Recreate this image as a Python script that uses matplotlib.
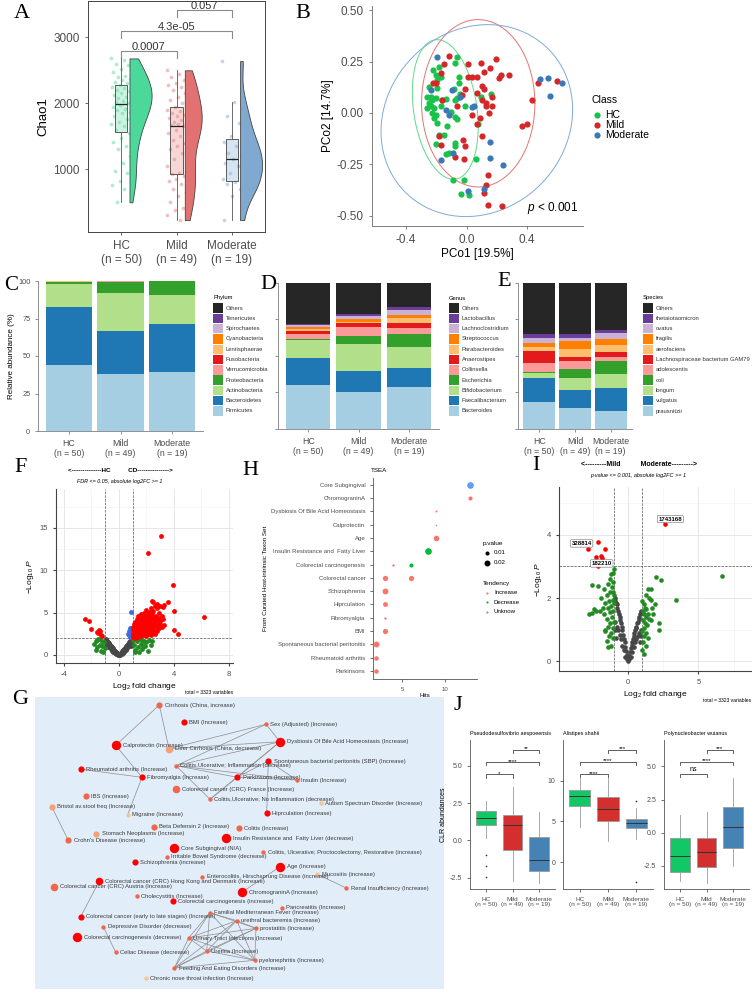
import numpy as np
import matplotlib
matplotlib.use("Agg")
import matplotlib.pyplot as plt
from matplotlib.patches import Rectangle
from matplotlib.colors import to_rgba

plt.rcParams['font.family'] = ['Liberation Sans', 'DejaVu Sans']
plt.rcParams['mathtext.fontset'] = 'custom'
plt.rcParams['mathtext.rm'] = 'Liberation Sans'
plt.rcParams['mathtext.it'] = 'Liberation Sans:italic'
plt.rcParams['axes.unicode_minus'] = False

# ---------------- DATA ----------------
groups = ["HC", "Mild", "Moderate"]
group_n = [50, 49, 19]
group_labels = [f"{g}\n(n = {n})" for g, n in zip(groups, group_n)]

# A: Chao1
chao_hc = [2680, 2650, 2600, 2580, 2520, 2480, 2420, 2400, 2370, 2350, 2320, 2300, 2280, 2250, 2230,
           2200, 2180, 2150, 2130, 2100, 2080, 2050, 2040, 2020, 2000, 1980, 1950, 1920, 1900, 1870,
           1850, 1800, 1760, 1720, 1690, 1650, 1600, 1550, 1480, 1420, 1360, 1300, 1200, 1100, 980,
           950, 820, 760, 700, 500]
chao_mild = [2500, 2450, 2400, 2350, 2300, 2280, 2250, 2200, 2150, 2100, 2050, 2000, 1950, 1900, 1880,
             1850, 1820, 1800, 1780, 1750, 1720, 1700, 1680, 1670, 1650, 1600, 1550, 1500, 1450, 1400,
             1350, 1300, 1250, 1150, 1050, 950, 930, 900, 850, 820, 780, 700, 650, 600, 500, 420, 380,
             300, 230]
chao_mod = [2640, 2020, 1800, 1700, 1500, 1420, 1350, 1250, 1200, 1150, 1100, 1050, 950, 850, 800,
            780, 700, 600, 230]
chao_tests = [(1, 2, 2790, "0.0007"), (1, 3, 3090, "4.3e-05"), (2, 3, 3410, "0.057")]

# B: PCoA
pc_hc = [(-0.062, 0.270), (-0.077, 0.241), (-0.183, 0.225), (-0.223, 0.209), (-0.205, 0.184),
         (-0.194, 0.160), (-0.172, 0.173), (-0.051, 0.173), (-0.051, 0.144), (-0.084, 0.115),
         (-0.194, 0.120), (-0.260, 0.076), (-0.238, 0.076), (-0.227, 0.063), (-0.205, 0.071),
         (-0.249, 0.047), (-0.260, 0.023), (-0.216, 0.023), (-0.161, 0.063), (-0.139, 0.066),
         (-0.073, 0.063), (-0.227, -0.002), (-0.205, -0.010), (-0.216, -0.026), (-0.194, -0.050),
         (-0.128, -0.063), (-0.073, -0.018), (-0.062, -0.031), (-0.011, 0.034), (0.077, -0.055),
         (-0.183, -0.107), (-0.150, -0.107), (-0.205, -0.150), (-0.073, -0.147), (-0.077, -0.163),
         (-0.139, -0.199), (-0.117, -0.196), (0.064, -0.225), (-0.091, -0.325), (-0.018, -0.325),
         (-0.035, -0.393), (0.015, -0.398), (0.159, 0.091), (0.093, 0.079), (-0.106, 0.006),
         (-0.040, 0.092), (-0.232, 0.034), (-0.172, 0.034), (-0.249, 0.128), (-0.066, 0.071)]
pc_mild = [(-0.113, 0.277), (-0.150, 0.238), (-0.166, 0.196), (-0.223, 0.147), (0.007, 0.236),
           (0.093, 0.241), (0.192, 0.261), (0.155, 0.217), (0.113, 0.197), (0.071, 0.176),
           (0.011, 0.173), (0.038, 0.173), (0.225, 0.184), (0.214, 0.168), (0.280, 0.184),
           (0.104, 0.131), (0.115, 0.115), (0.071, 0.099), (-0.011, 0.115), (-0.029, 0.087),
           (-0.064, 0.034), (0.126, 0.047), (0.126, 0.034), (0.166, 0.034), (0.148, 0.002),
           (0.088, -0.023), (0.071, -0.055), (0.104, -0.112), (-0.007, -0.159), (-0.077, -0.212),
           (-0.018, -0.222), (-0.166, -0.155), (-0.183, -0.112), (0.435, 0.063), (0.369, -0.063),
           (0.402, -0.053), (0.472, 0.144), (0.600, 0.157), (0.139, -0.301), (0.132, -0.350),
           (0.115, -0.390), (0.143, -0.448), (0.236, -0.451), (-0.161, 0.063), (-0.205, 0.144),
           (0.170, 0.079), (-0.024, -0.131), (0.099, 0.063), (0.038, -0.010)]
pc_mod = [(-0.192, 0.270), (-0.238, 0.112), (-0.095, 0.112), (-0.139, 0.015), (-0.117, -0.010),
          (0.049, 0.034), (0.038, 0.028), (0.483, 0.167), (0.536, 0.168), (0.634, 0.144),
          (0.550, 0.083), (0.157, -0.142), (0.152, -0.220), (0.241, -0.254), (-0.170, -0.231),
          (-0.091, -0.196), (0.011, -0.379), (0.115, -0.369), (-0.040, 0.079)]
f_quantile_95 = [3.187, 3.191, 3.555]   # qf(0.95, 2, n-1)

# C, D, E: composition (bottom -> top)
phylum_names = ["Firmicutes", "Bacteroidetes", "Actinobacteria", "Proteobacteria", "Verrucomicrobia",
                "Fusobacteria", "Lentisphaerae", "Cyanobacteria", "Spirochaetes", "Tenericutes", "Others"]
phylum_hc = [44.0, 38.5, 15.2, 1.8, 0.1, 0.05, 0.05, 0.2, 0.0, 0.0, 0.1]
phylum_mild = [38.2, 28.7, 24.9, 7.8, 0.3, 0.0, 0.0, 0.0, 0.0, 0.0, 0.1]
phylum_mod = [39.3, 32.0, 19.2, 9.3, 0.05, 0.0, 0.0, 0.05, 0.0, 0.0, 0.1]

genus_names = ["Bacteroides", "Faecalibacterium", "Bifidobacterium", "Escherichia", "Collinsella",
               "Anaerostipes", "Parabacteroides", "Streptococcus", "Lachnoclostridium", "Lactobacillus", "Others"]
genus_hc = [30.0, 18.8, 12.2, 0.8, 3.0, 2.1, 1.8, 1.3, 1.2, 0.8, 28.0]
genus_mild = [25.3, 14.4, 18.3, 5.9, 6.1, 2.4, 1.1, 1.6, 2.3, 1.4, 21.2]
genus_mod = [29.0, 13.0, 14.4, 8.4, 4.1, 3.9, 3.0, 2.3, 3.4, 1.9, 16.6]

species_names = ["prausnitzii", "vulgatus", "longum", "coli", "adolescentis",
                 "Lachnospiraceae bacterium GAM79", "aerofaciens", "fragilis", "ovatus",
                 "thetaiotaomicron", "Others"]
species_hc = [18.3, 16.9, 2.9, 0.9, 6.0, 8.4, 3.0, 2.7, 3.4, 2.5, 35.0]
species_mild = [14.2, 12.5, 8.5, 6.1, 5.3, 2.9, 5.3, 5.5, 1.8, 2.9, 35.0]
species_mod = [12.6, 15.7, 9.6, 8.7, 2.9, 3.2, 4.6, 4.3, 3.9, 2.3, 32.2]

# F: volcano HC vs CD
f_sig = [(1.0, 2.1), (1.0, 2.5), (1.0, 2.9), (1.0, 3.3), (1.1, 2.2), (1.1, 2.7), (1.1, 3.1), (1.1, 3.6),
         (1.2, 2.0), (1.2, 2.4), (1.2, 3.0), (1.2, 3.4), (1.2, 3.9), (1.3, 2.3), (1.3, 2.8), (1.3, 3.2),
         (1.3, 3.7), (1.3, 4.3), (1.4, 2.1), (1.4, 2.6), (1.4, 3.0), (1.4, 3.5), (1.4, 4.0), (1.4, 4.6),
         (1.5, 2.4), (1.5, 2.9), (1.5, 3.3), (1.5, 3.8), (1.5, 4.4), (1.6, 2.2), (1.6, 2.7), (1.6, 3.1),
         (1.6, 3.6), (1.6, 4.1), (1.6, 4.8), (1.7, 2.5), (1.7, 3.0), (1.7, 3.4), (1.7, 3.9), (1.7, 4.5),
         (1.8, 2.3), (1.8, 2.8), (1.8, 3.2), (1.8, 3.7), (1.8, 4.2), (1.8, 5.0), (1.9, 2.6), (1.9, 3.1),
         (1.9, 3.5), (1.9, 4.0), (1.9, 4.6), (2.0, 2.2), (2.0, 2.9), (2.0, 3.3), (2.0, 3.8), (2.0, 4.4),
         (2.0, 5.3), (2.1, 2.5), (2.1, 3.0), (2.1, 3.6), (2.1, 4.1), (2.1, 4.8), (2.2, 2.8), (2.2, 3.4),
         (2.2, 3.9), (2.2, 4.5), (2.2, 5.1), (2.3, 2.3), (2.3, 3.1), (2.3, 3.7), (2.3, 4.3), (2.3, 5.5),
         (2.4, 2.7), (2.4, 3.5), (2.4, 4.0), (2.4, 4.8), (2.4, 6.4), (2.5, 2.9), (2.5, 3.3), (2.5, 3.9),
         (2.5, 4.5), (2.5, 5.2), (2.5, 6.3), (2.6, 2.5), (2.6, 3.6), (2.6, 4.2), (2.6, 5.8), (2.7, 3.0),
         (2.7, 3.8), (2.7, 4.6), (2.8, 2.8), (2.8, 3.4), (2.8, 4.1), (2.8, 5.5), (2.8, 6.0), (2.9, 3.2),
         (2.9, 4.4), (2.9, 5.0), (3.0, 3.6), (3.0, 4.0), (3.0, 5.8), (3.1, 3.3), (3.1, 4.6), (3.2, 4.2),
         (3.2, 5.7), (3.3, 3.5), (3.3, 5.9), (3.05, 14.1), (2.13, 12.1), (3.93, 8.3), (3.6, 6.3),
         (4.0, 5.2), (6.2, 4.5), (4.0, 2.9), (4.3, 2.5),
         (-2.5, 4.3), (-2.2, 4.0), (-2.0, 3.1), (-1.6, 2.7), (-1.45, 2.9), (-1.3, 2.4), (-1.55, 2.6),
         (-1.2, 2.2), (-1.35, 2.8)]
f_fc = [(-1.8, 1.3), (-1.7, 1.6), (-1.6, 0.9), (-1.5, 1.9), (-1.4, 1.2), (-1.3, 0.5), (-1.25, 1.7),
        (-1.2, 1.0), (-1.15, 0.3), (-1.1, 1.5), (-1.05, 0.8), (-1.6, 1.8), (-1.35, 1.9), (-1.7, 0.6),
        (1.05, 1.8), (1.1, 1.2), (1.2, 0.6), (1.3, 1.6), (1.4, 0.9), (1.5, 1.9), (1.6, 1.3), (1.7, 0.7),
        (1.8, 1.7), (1.9, 1.1), (2.0, 1.5), (2.1, 0.5), (2.2, 1.8), (2.3, 1.2), (1.15, 0.3), (1.35, 1.9),
        (1.65, 1.8), (1.45, 0.4), (2.4, 1.6), (1.75, 1.0)]
f_p = [(0.9, 5.1), (0.8, 3.2), (0.75, 2.8), (0.85, 2.6), (0.7, 2.3), (0.8, 2.1), (0.9, 3.0), (0.65, 2.5),
       (0.95, 2.4)]
f_ns = [(0.0, 0.02), (0.05, 0.08), (-0.05, 0.06), (0.1, 0.15), (-0.1, 0.12), (0.15, 0.25), (-0.15, 0.2),
        (0.2, 0.35), (-0.2, 0.3), (0.25, 0.45), (-0.25, 0.4), (0.3, 0.55), (-0.3, 0.5), (0.35, 0.65),
        (-0.35, 0.6), (0.4, 0.75), (-0.4, 0.7), (0.45, 0.85), (-0.45, 0.8), (0.5, 0.95), (-0.5, 0.9),
        (0.55, 1.05), (-0.55, 1.0), (0.6, 1.15), (-0.6, 1.1), (0.65, 1.3), (-0.65, 1.2), (0.7, 1.4),
        (-0.7, 1.3), (0.75, 1.55), (-0.75, 1.4), (0.8, 1.7), (-0.8, 1.5), (0.85, 1.85), (-0.85, 1.6),
        (0.9, 1.95), (-0.9, 1.7), (-0.95, 1.85), (0.2, 0.1), (-0.2, 0.08), (0.3, 0.25), (-0.3, 0.2),
        (0.4, 0.4), (-0.4, 0.35), (0.5, 0.6), (-0.5, 0.5), (0.6, 0.8), (-0.6, 0.7), (0.7, 1.0),
        (-0.7, 0.9), (0.8, 1.2), (-0.8, 1.1), (0.9, 1.45), (-0.9, 1.3), (0.95, 1.6), (-0.95, 1.5),
        (0.1, 0.03), (-0.1, 0.03), (0.95, 1.2), (-0.95, 1.1), (0.85, 1.0), (-0.85, 0.95)]

# H: TSEA
tsea_terms = ["Core Subgingival", "ChromograninA", "Dysbiosis Of Bile Acid Homeostasis", "Calprotectin",
              "Age", "Insulin Resistance and  Fatty Liver", "Colorectal carcinogenesis",
              "Colorectal cancer", "Schizophrenia", "Hiprculation", "Fibromyalgia", "BMI",
              "Spontaneous bacterial peritonitis", "Rheumatoid arthritis", "Parkinsons"]
tsea_hits = [("Core Subgingival", 13, 0.025, "Unknow"), ("ChromograninA", 13, 0.010, "Increase"),
             ("Dysbiosis Of Bile Acid Homeostasis", 9, 0.003, "Increase"),
             ("Calprotectin", 9, 0.002, "Increase"), ("Age", 9, 0.018, "Increase"),
             ("Insulin Resistance and  Fatty Liver", 8, 0.025, "Decrease"),
             ("Colorectal carcinogenesis", 4, 0.004, "Increase"),
             ("Colorectal carcinogenesis", 6, 0.010, "Decrease"),
             ("Colorectal cancer", 3, 0.016, "Increase"), ("Colorectal cancer", 6, 0.016, "Increase"),
             ("Schizophrenia", 3, 0.020, "Increase"), ("Hiprculation", 3, 0.014, "Increase"),
             ("Fibromyalgia", 3, 0.004, "Increase"), ("BMI", 3, 0.016, "Increase"),
             ("Spontaneous bacterial peritonitis", 2, 0.020, "Increase"),
             ("Rheumatoid arthritis", 2, 0.012, "Increase"), ("Parkinsons", 2, 0.012, "Increase")]
tendency_colors = {"Increase": "#F8766D", "Decrease": "#00BA38", "Unknow": "#619CFF"}

# I: volcano Mild vs Moderate
i_sig = [(2.65, 4.34), (-2.1, 3.78), (-2.84, 3.55), (-1.61, 3.53), (-2.27, 3.28), (-1.9, 3.34),
         (-1.82, 3.26), (-2.1, 3.0)]
i_labels = [("1743168", 3.0, 4.49), ("328814", -3.3, 3.72), ("182210", -1.87, 3.09)]
i_fc = [(-1.0, 2.9), (-1.1, 2.8), (-1.2, 2.75), (-1.3, 2.6), (-1.05, 2.5), (-1.4, 2.45), (-1.15, 2.35),
        (-1.25, 2.2), (-1.5, 2.1), (-1.0, 2.1), (-1.1, 1.95), (-1.35, 1.9), (-1.6, 1.85), (-1.2, 1.75),
        (-1.45, 1.7), (-1.05, 1.6), (-1.3, 1.55), (-1.7, 1.5), (-1.15, 1.4), (-1.5, 1.35), (-1.0, 1.25),
        (-1.25, 1.2), (-1.4, 1.1), (-1.1, 1.05), (-1.6, 1.0), (-1.2, 0.9), (-1.35, 0.8), (-1.05, 0.75),
        (-1.5, 0.65), (-1.2, 0.5), (-1.4, 0.45), (-1.8, 1.7), (-2.0, 1.6), (-2.25, 1.6), (-2.58, 1.53),
        (-2.58, 2.42), (-2.16, 2.37), (-1.9, 2.0), (-1.7, 2.3), (-2.4, 1.65), (-2.75, 1.5), (-1.6, 0.95),
        (-1.0, 1.85), (-1.1, 2.2),
        (1.0, 1.9), (1.1, 1.8), (1.2, 1.7), (1.05, 1.6), (1.3, 1.65), (1.15, 1.5), (1.4, 1.5),
        (1.25, 1.4), (1.05, 1.3), (1.5, 1.35), (1.2, 1.2), (1.35, 1.15), (1.1, 1.05), (1.6, 1.3),
        (1.0, 0.95), (1.3, 0.9), (1.15, 0.8), (1.45, 0.75), (1.05, 0.6), (1.25, 0.5), (1.0, 0.35),
        (1.15, 0.25), (1.7, 1.7), (1.5, 2.0), (1.3, 2.1), (2.0, 2.66), (2.37, 2.56), (3.44, 1.94),
        (6.64, 2.68), (1.9, 1.8), (2.2, 1.0), (2.2, 1.2), (1.6, 2.3), (1.8, 1.5), (1.4, 2.3), (1.65, 1.95)]
i_ns = [(0.0, 0.02), (0.05, 0.08), (-0.05, 0.07), (0.1, 0.18), (-0.1, 0.2), (0.15, 0.3), (-0.15, 0.32),
        (0.2, 0.42), (-0.2, 0.45), (0.25, 0.52), (-0.25, 0.6), (0.3, 0.62), (-0.3, 0.72), (0.35, 0.72),
        (-0.35, 0.85), (0.4, 0.8), (-0.4, 0.98), (0.45, 0.9), (-0.45, 1.1), (0.5, 1.0), (-0.5, 1.2),
        (0.55, 1.05), (-0.55, 1.3), (0.6, 1.1), (-0.6, 1.4), (0.65, 1.2), (-0.65, 1.5), (0.7, 1.25),
        (-0.7, 1.6), (0.75, 1.35), (-0.75, 1.7), (0.8, 1.4), (-0.8, 1.8), (0.85, 1.5), (-0.85, 1.85),
        (0.9, 1.55), (-0.9, 1.9), (0.95, 1.6), (-0.95, 2.0), (0.2, 0.15), (-0.2, 0.15), (0.3, 0.3),
        (-0.3, 0.35), (0.4, 0.45), (-0.4, 0.5), (0.5, 0.6), (-0.5, 0.7), (0.6, 0.7), (-0.6, 0.85),
        (0.7, 0.8), (-0.7, 1.0), (0.8, 0.9), (-0.8, 1.1), (0.9, 1.0), (-0.9, 1.25), (0.95, 0.8),
        (-0.95, 1.0), (0.85, 0.6), (-0.85, 0.75)]

# G: network (label, layout x, layout y, size class, colour level)
net_nodes = [
    ("Cirrhosis (China, increase)", 159.3, 705.0, "M", 1),
    ("BMI (Increase)", 184.0, 722.3, "M", 0),
    ("Calprotectin (Increase)", 115.7, 745.3, "L", 0),
    ("Liver Cirrhosis (China, decrease)", 169.0, 748.7, "ML", 2),
    ("Sex (Adjusted) (Increase)", 266.0, 724.3, "S", 1),
    ("Dysbiosis Of Bile Acid Homeostasis (Increase)", 280.0, 741.7, "L", 0),
    ("Colitis,Ulcerative; Inflammation (decrease)", 176.0, 765.7, "S", 1),
    ("Spontaneous bacterial peritonitis (SBP) (Increase)", 268.3, 761.0, "M", 0),
    ("Rheumatoid arthritis (Increase)", 81.0, 769.3, "M", 0),
    ("Fibromyalgia (Increase)", 142.0, 777.3, "M", 0),
    ("Parkinsons (Increase)", 237.3, 777.3, "M", 0),
    ("Insulin (Increase)", 296.7, 780.0, "S", 1),
    ("Colorectal cancer (CRC) France (Increase)", 176.0, 789.3, "ML", 1),
    ("Colitis,Ulcerative; No Inflammation (decrease)", 210.0, 799.3, "S", 1),
    ("Autism Spectrum Disorder (Increase)", 320.7, 803.3, "S", 3),
    ("IBS (Increase)", 85.7, 796.3, "M", 1),
    ("Bristol av.stool freq (Increase)", 51.7, 806.7, "M", 2),
    ("Hiprculation (Increase)", 266.7, 813.3, "M", 0),
    ("Migraine (Increase)", 127.7, 814.7, "S", 3),
    ("Beta Defensin 2 (Increase)", 154.0, 826.7, "M", 1),
    ("Colitis (Increase)", 239.0, 828.3, "M", 1),
    ("Stomach Neoplasms (Increase)", 96.3, 833.7, "M", 2),
    ("Crohn's Disease (increase)", 68.3, 840.3, "M", 1),
    ("Insulin Resistance and  Fatty Liver (decrease)", 225.7, 838.0, "L", 0),
    ("Core Subgingival (N/A)", 173.7, 848.0, "L", 0),
    ("Colitis, Ulcerative; Proctocolectomy, Restorative (increase)", 263.3, 852.3, "S", 1),
    ("Irritable Bowel Syndrome (decrease)", 166.7, 856.7, "S", 1),
    ("Schizophrenia (increase)", 134.7, 862.3, "M", 0),
    ("Age (Increase)", 280.0, 866.7, "L", 0),
    ("Enterocolitis, Hirschsprung Disease (increase)", 202.3, 876.7, "S", 1),
    ("Mucositis (increase)", 317.3, 874.3, "S", 3),
    ("Renal Insufficiency (Increase)", 346.3, 888.0, "S", 1),
    ("Colorectal cancer (CRC) Hong Kong and Denmark (Increase)", 99.3, 881.0, "ML", 0),
    ("Colorectal cancer (CRC) Austria (Increase)", 54.0, 886.7, "ML", 1),
    ("ChromograninA (Increase)", 242.3, 892.0, "L", 0),
    ("Cholecystitis (Increase)", 136.7, 896.0, "S", 1),
    ("Colorectal carcinogenesis (increase)", 173.0, 901.0, "M", 0),
    ("Pancreatitis (Increase)", 282.0, 907.7, "S", 1),
    ("Familial Mediterranean Fever (Increase)", 209.7, 912.7, "S", 1),
    ("Colorectal cancer (early to late stages) (Increase)", 80.7, 916.7, "M", 0),
    ("urethral bacteremia (Increase)", 236.7, 920.7, "S", 1),
    ("prostatitis (Increase)", 256.0, 928.3, "S", 1),
    ("Depressive Disorder (decrease)", 103.3, 926.7, "S", 1),
    ("Colorectal carcinogenesis (decrease)", 77.3, 937.3, "L", 0),
    ("Urinary Tract Infections (Increase)", 188.7, 938.0, "S", 1),
    ("Uremia (Increase)", 206.7, 951.0, "S", 1),
    ("Celiac Disease (decrease)", 115.7, 952.3, "S", 1),
    ("pyelonephritis (Increase)", 254.7, 960.3, "S", 1),
    ("Feeding And Eating Disorders (Increase)", 174.3, 968.0, "S", 1),
    ("Chronic nose throat infection (Increase)", 145.7, 978.3, "S", 3),
]
net_edges = [(0, 2), (0, 3), (2, 9), (8, 9), (9, 18), (16, 22), (32, 39), (42, 46), (28, 34), (30, 31),
             (4, 5), (4, 3), (4, 6), (5, 3), (5, 6), (5, 10), (5, 13), (6, 10), (6, 11), (10, 11),
             (10, 13), (6, 13), (7, 17), (7, 10), (7, 11)]
net_clique = [38, 40, 41, 44, 45, 47, 48]

# J: CLR boxplots (whislo, q1, med, q3, whishi, fliers)
clr_titles = ["Pseudodesulfovibrio aespoeensis", "Alistipes shahii", "Polynucleobacter wuianus"]
clr_stats = [
    [(0.17, 1.0, 1.48, 2.0, 2.65, [-0.97, -1.7, -2.47]), (-2.7, -0.66, 1.06, 1.72, 3.57, []),
     (-2.85, -2.03, -1.3, 0.24, 1.9, [])],
    [(4.35, 6.85, 8.07, 8.9, 10.3, []), (2.6, 5.1, 6.55, 8.0, 10.3, []),
     (2.85, 4.2, 4.8, 5.3, 6.6, [7.5, -2.5])],
    [(-3.66, -2.98, -1.73, -0.42, 1.37, []), (-3.78, -2.61, -1.5, -0.42, 1.55, []),
     (-2.5, -1.19, 0.45, 1.92, 4.1, [])],
]
clr_tests = [
    [(1, 2, 4.43, "*"), (1, 3, 5.25, "****"), (2, 3, 6.07, "**")],
    [(1, 2, 10.8, "****"), (1, 3, 12.3, "****"), (2, 3, 13.8, "***")],
    [(1, 2, 4.43, "ns"), (1, 3, 5.35, "****"), (2, 3, 6.26, "***")],
]
clr_ticks = [[-2.5, 0.0, 2.5, 5.0], [0, 5, 10], [-2.5, 0.0, 2.5, 5.0]]

# ---------------- STYLE ----------------
W, H = 752, 992
fig = plt.figure(figsize=(W / 100, H / 100), dpi=100)
TICKC = '#4D4D4D'
SERIF = 'Liberation Serif'


def add_ax(x0, y0, x1, y1):
    return fig.add_axes([x0 / W, 1 - y1 / H, (x1 - x0) / W, (y1 - y0) / H])


def ftext(x, y, s, **kw):
    return fig.text(x / W, 1 - y / H, s, **kw)


def letter(x, y, s, fs=16):
    ftext(x, y, s, fontsize=fs, family=SERIF, ha='center', va='center')


def classic(ax, color='#555555', lw=0.7):
    for s in ['top', 'right']:
        ax.spines[s].set_visible(False)
    for s in ['left', 'bottom']:
        ax.spines[s].set_color(color)
        ax.spines[s].set_linewidth(lw)
    ax.tick_params(colors=color, width=lw, length=2.5)


def cov_trob(a, nu=5, iters=50):
    # multivariate-t robust location / scatter (as used by stat_ellipse type "t")
    n, p = a.shape
    loc = a.mean(0)
    cov = np.cov(a.T, bias=True)
    for _ in range(iters):
        d = a - loc
        q = np.einsum('ij,jk,ik->i', d, np.linalg.inv(cov), d)
        w = (nu + p) / (nu + q)
        loc = (w[:, None] * a).sum(0) / w.sum()
        d = a - loc
        cov = (w[:, None, None] * np.einsum('ij,ik->ijk', d, d)).sum(0) / n
    return loc, cov


# ---------------- A ----------------
axA = add_ax(88, 1, 265, 232)
vcol = ["#4CD89A", "#E27272", "#80A9D0"]
pcol = ["#6EDDA9", "#EA8A8A", "#8FB3D8"]
kde_list = []
for vals in [chao_hc, chao_mild, chao_mod]:
    v = np.asarray(vals, float)
    n = len(v)
    q75, q25 = np.percentile(v, [75, 25])
    bw = 0.9 * min(v.std(ddof=1), (q75 - q25) / 1.34) * n ** -0.2
    grid = np.linspace(v.min(), v.max(), 200)
    dens = np.exp(-0.5 * ((grid[:, None] - v[None, :]) / bw) ** 2).sum(1) / (n * bw * np.sqrt(2 * np.pi))
    kde_list.append((grid, dens))
scale = 0.40 / max(d.max() for _, d in kde_list)
for i, vals in enumerate([chao_hc, chao_mild, chao_mod]):
    pos = i + 1
    v = np.asarray(vals, float)
    k = np.arange(len(v))
    jit = ((k * 0.618034) % 1.0 - 0.5) * 0.36
    axA.scatter(pos + jit, v, s=7, color=pcol[i], alpha=0.55, lw=0, zorder=2)
    bp = axA.boxplot([v], positions=[pos], widths=0.22, patch_artist=True, showfliers=False,
                     showcaps=False, manage_ticks=False, zorder=3)
    for b in bp['boxes']:
        b.set_facecolor(to_rgba(pcol[i], 0.35))
        b.set_edgecolor('#444444')
        b.set_linewidth(0.6)
    for w in bp['whiskers']:
        w.set_color('#555555')
        w.set_linewidth(0.6)
    for m in bp['medians']:
        m.set_color('#222222')
        m.set_linewidth(0.9)
    grid, dens = kde_list[i]
    axA.fill_betweenx(grid, pos + 0.15, pos + 0.15 + dens * scale, facecolor=vcol[i],
                      edgecolor='#444444', lw=0.6, zorder=2)
for x1, x2, y, t in chao_tests:
    axA.plot([x1, x1, x2, x2], [y - 100, y, y, y - 100], color='#8A8A8A', lw=0.8)
    axA.text((x1 + x2) / 2, y + 25, t, ha='center', va='baseline', fontsize=8, color='#333333')
axA.set_xlim(0.4, 3.6)
axA.set_ylim(50, 3550)
axA.set_yticks([1000, 2000, 3000])
axA.set_xticks([1, 2, 3])
axA.set_xticklabels(group_labels)
axA.tick_params(labelsize=8.5, colors=TICKC, width=0.6, length=2.5)
for s in axA.spines.values():
    s.set_color('#444444')
    s.set_linewidth(0.7)
axA.set_ylabel("Chao1", fontsize=9.5, labelpad=3)
letter(22, 13, "A")

# ---------------- B ----------------
axB = add_ax(372, 6, 583, 226)
classic(axB, '#7F7F7F')
bcol = ["#19C24A", "#D62728", "#3A78BA"]
ecol = ["#5FD98A", "#E57373", "#7FAAD6"]
for pts, c, ec, fq in zip([pc_hc, pc_mild, pc_mod], bcol, ecol, f_quantile_95):
    a = np.asarray(pts)
    axB.scatter(a[:, 0], a[:, 1], s=20, color=c, lw=0, zorder=3)
    cen, cv = cov_trob(a)
    L = np.linalg.cholesky(cv)
    th = np.linspace(0, 2 * np.pi, 200)
    circ = np.column_stack([np.cos(th), np.sin(th)])
    e = cen + np.sqrt(2 * fq) * circ @ L.T
    axB.plot(e[:, 0], e[:, 1], color=ec, lw=0.7, zorder=2)
axB.set_xlim(-0.625, 0.77)
axB.set_ylim(-0.55, 0.52)
axB.set_xticks([-0.4, 0.0, 0.4])
axB.set_yticks([-0.5, -0.25, 0.0, 0.25, 0.5])
axB.set_yticklabels(["-0.50", "-0.25", "0.00", "0.25", "0.50"])
axB.tick_params(labelsize=8.5, labelcolor=TICKC)
axB.set_xlabel("PCo1 [19.5%]", fontsize=8.5, labelpad=1)
axB.set_ylabel("PCo2 [14.7%]", fontsize=8.5, labelpad=2)
axB.text(0.74, -0.5, r"$p$ < 0.001", fontsize=8.5, ha='right', va='bottom')
letter(303, 13, "B")

# ---------------- C, D, E ----------------
comp_cols = ["#A6CEE3", "#1F78B4", "#B2DF8A", "#33A02C", "#FB9A99", "#E31A1C", "#FDBF6F",
             "#FF7F00", "#CAB2D6", "#6A3D9A", "#262626"]


def stacked(ax, comps, width):
    bottoms = np.zeros(3)
    xs = np.arange(1, 4)
    comps = np.asarray(comps, float)
    for j, col in enumerate(comp_cols):
        ax.bar(xs, comps[:, j], width, bottom=bottoms, color=col, lw=0)
        bottoms += comps[:, j]
    ax.set_xlim(0.4, 3.6)
    ax.set_ylim(0, 100)
    ax.set_xticks([1, 2, 3])
    ax.set_xticklabels(group_labels)
    ax.set_yticks([0, 25, 50, 75, 100])
    classic(ax, '#7F7F7F', 0.6)
    ax.tick_params(labelsize=6.3, labelcolor=TICKC, length=2)


axC = add_ax(38, 281, 203, 431)
stacked(axC, [phylum_hc, phylum_mild, phylum_mod], 0.9)
axC.tick_params(axis='y', labelsize=5.3)
axC.set_ylabel("Relative abundance (%)", fontsize=5.8, labelpad=2)
axD = add_ax(278, 283, 439, 429)
stacked(axD, [genus_hc, genus_mild, genus_mod], 0.88)
axD.set_yticklabels([])
axE = add_ax(518, 283, 632, 429)
stacked(axE, [species_hc, species_mild, species_mod], 0.9)
axE.set_yticklabels([])
letter(11, 285, "C", 15)
letter(268, 284, "D")
letter(504, 282, "E")

# ---------------- F ----------------
axF = add_ax(56, 489, 233, 663)
classic(axF, '#444444', 0.8)
axF.set_axisbelow(True)
axF.set_xticks([-4, 0, 4, 8])
axF.set_xticks([-2, 2, 6], minor=True)
axF.set_yticks([0, 5, 10, 15])
axF.set_yticks([2.5, 7.5, 12.5, 17.5], minor=True)
axF.grid(True, which='major', color='#E3E3E3', lw=0.6)
axF.grid(True, which='minor', color='#EFEFEF', lw=0.4)
axF.tick_params(which='minor', length=0)
for pts, c in [(f_ns, '#474747'), (f_fc, '#228B22'), (f_p, '#4169E1'), (f_sig, '#FF0000')]:
    a = np.asarray(pts)
    axF.scatter(a[:, 0], a[:, 1], s=12, color=c, lw=0, zorder=3)
for xv in (-1, 1):
    axF.axvline(xv, ls='--', color='#555555', lw=0.5, zorder=2)
axF.axhline(1.95, ls='--', color='#555555', lw=0.5, zorder=2)
axF.set_xlim(-4.58, 8.3)
axF.set_ylim(-0.95, 19.6)
axF.tick_params(labelsize=5.5, labelcolor=TICKC)
axF.set_xlabel(r"Log$_2$ fold change", fontsize=6, labelpad=2)
axF.set_ylabel(r"$-$Log$_{10}$ $P$", fontsize=6, labelpad=2)
ftext(120, 470, "<--------------HC          CD--------------->", fontsize=4.6, fontweight='bold',
      ha='center', va='center')
ftext(120, 481, "FDR <= 0.05, absolute log2FC >= 1", fontsize=3.9, style='italic', ha='center',
      va='center')
ftext(233, 692, "total = 3323 variables", fontsize=3.6, ha='right', va='center')
letter(21, 467, "F")

# ---------------- H ----------------
axH = add_ax(373, 478, 477, 679)
classic(axH, '#555555', 0.6)
ypos = {t: len(tsea_terms) - 1 - k for k, t in enumerate(tsea_terms)}


def psize(p):
    return 2 + 955 * (p - 0.003)


for term, hits, p, tend in tsea_hits:
    axH.scatter(hits, ypos[term], s=psize(p), color=tendency_colors[tend], lw=0, zorder=3)
axH.set_yticks([ypos[t] for t in tsea_terms])
axH.set_yticklabels(tsea_terms)
axH.set_xticks([5, 10])
axH.set_xlim(1.6, 13.8)
axH.set_ylim(-0.6, 14.5)
axH.tick_params(labelsize=4.3, labelcolor=TICKC, length=2)
axH.set_xlabel("Hits", fontsize=4.5, labelpad=1)
axH.set_ylabel("From Curated Host-intrinsic Taxon Set", fontsize=4.5, labelpad=2)
ftext(371, 470, "TSEA", fontsize=4.5, ha='left', va='center')
letter(250, 470, "H")

# ---------------- I ----------------
axI = add_ax(559, 487, 752, 671)
classic(axI, '#444444', 0.8)
axI.set_axisbelow(True)
axI.set_xticks([0, 5])
axI.set_xticks([-2.5, 2.5, 7.5], minor=True)
axI.set_yticks([0, 2, 4])
axI.set_yticks([1, 3, 5], minor=True)
axI.grid(True, which='major', color='#E3E3E3', lw=0.6)
axI.grid(True, which='minor', color='#EFEFEF', lw=0.4)
axI.tick_params(which='minor', length=0)
for pts, c in [(i_ns, '#474747'), (i_fc, '#228B22'), (i_sig, '#FF0000')]:
    a = np.asarray(pts)
    axI.scatter(a[:, 0], a[:, 1], s=11, color=c, lw=0, zorder=3)
for lab, lx, ly in i_labels:
    axI.text(lx, ly, lab, fontsize=4.3, fontweight='bold', ha='center', va='center', zorder=5,
             bbox=dict(boxstyle='round,pad=0.2', fc='white', ec='#666666', lw=0.4))
for xv in (-0.97, 1.02):
    axI.axvline(xv, ls='--', color='#555555', lw=0.5, zorder=2)
axI.axhline(3.0, ls='--', color='#555555', lw=0.5, zorder=2)
axI.set_xlim(-4.9, 8.8)
axI.set_ylim(-0.3, 5.5)
axI.tick_params(labelsize=5.5, labelcolor=TICKC)
axI.set_xlabel(r"Log$_2$ fold change", fontsize=6, labelpad=2)
axI.set_ylabel(r"$-$Log$_{10}$ $P$", fontsize=6, labelpad=2)
ftext(639, 464, "<---------Mild          Moderate--------->", fontsize=5, fontweight='bold',
      ha='center', va='center')
ftext(638, 476, "p-value <= 0.001, absolute log2FC >= 1", fontsize=4, style='italic', ha='center',
      va='center')
ftext(751, 700, "total = 3323 variables", fontsize=3.6, ha='right', va='center')
letter(536, 466, "I")

# ---------------- G ----------------
axG = add_ax(35, 697, 444, 989)
axG.set_facecolor('#E2EDFA')
axG.set_xlim(35, 444)
axG.set_ylim(989, 697)
axG.set_xticks([])
axG.set_yticks([])
for s in axG.spines.values():
    s.set_visible(False)
node_sizes = {"L": 46, "ML": 30, "M": 20, "S": 10}
node_cols = ["#FF0000", "#F1654B", "#F2A178", "#F1C98F"]
edges = list(net_edges) + [(a, b) for ii, a in enumerate(net_clique) for b in net_clique[ii + 1:]]
for a, b in edges:
    axG.plot([net_nodes[a][1], net_nodes[b][1]], [net_nodes[a][2], net_nodes[b][2]],
             color='#8C8C8C', lw=0.5, zorder=1)
for lab, x, y, sz, lev in net_nodes:
    s = node_sizes[sz]
    axG.scatter(x, y, s=s, color=node_cols[lev], lw=0, zorder=2)
    r = np.sqrt(s) / 2 * 100 / 72
    axG.text(x + r + 2.2, y, lab, fontsize=4.2, color='#3A3A3A', ha='left', va='center',
             zorder=3, clip_on=False)
letter(20, 700, "G")

# ---------------- J ----------------
jboxes = [(470, 555, 26.5, (-3.27, 6.74)), (563, 653, 28.0, (-3.3, 15.0)), (664, 749, 26.5, (-4.26, 7.0))]
jcol = ["#12C866", "#D32F2F", "#4682B4"]
for k, (x0, x1, sp, yl) in enumerate(jboxes):
    ax = add_ax(x0, 740, x1, 889)
    classic(ax, '#555555', 0.6)
    stats = []
    for (lo, q1, med, q3, hi, fl) in clr_stats[k]:
        stats.append(dict(whislo=lo, q1=q1, med=med, q3=q3, whishi=hi, fliers=fl))
    bp = ax.bxp(stats, positions=[1, 2, 3], widths=0.75, patch_artist=True, showcaps=False,
                flierprops=dict(marker='o', markersize=1.2, markerfacecolor='#333333',
                                markeredgecolor='none'))
    for b, c in zip(bp['boxes'], jcol):
        b.set_facecolor(c)
        b.set_edgecolor('#9A9A9A')
        b.set_linewidth(0.6)
    for w in bp['whiskers']:
        w.set_color('#9A9A9A')
        w.set_linewidth(0.6)
    for m in bp['medians']:
        m.set_color('#333333')
        m.set_linewidth(0.7)
    rng = yl[1] - yl[0]
    for a, b, y, t in clr_tests[k]:
        h = 0.022 * rng
        ax.plot([a, a, b, b], [y - h, y, y, y - h], color='#444444', lw=0.6)
        if t == "ns":
            ax.text((a + b) / 2, y + 0.005 * rng, t, ha='center', va='bottom', fontsize=5)
        else:
            ax.text((a + b) / 2, y - 0.01 * rng, t, ha='center', va='bottom', fontsize=4.5)
    ax.set_xlim(0.4, 3.6)
    ax.set_ylim(*yl)
    ax.set_yticks(clr_ticks[k])
    ax.set_xticks([1, 2, 3])
    ax.set_xticklabels(group_labels)
    ax.tick_params(labelsize=4.6, labelcolor=TICKC, length=2)
    ax.tick_params(axis='y', labelsize=5)
    ftext(x0, 734, clr_titles[k], fontsize=3.9, ha='left', va='center')
    if k == 0:
        ax.set_ylabel("CLR abundances", fontsize=5, labelpad=2)
letter(458, 706, "J")

# ---------------- overlay (legends) ----------------
ov = fig.add_axes([0, 0, 1, 1])
ov.set_xlim(0, W)
ov.set_ylim(H, 0)
ov.axis('off')
ov.patch.set_alpha(0)

# B legend
ov.text(592, 100, "Class", fontsize=7.5, va='center', ha='left')
for j, (g, c) in enumerate(zip(groups, bcol)):
    yy = 115 + 10 * j
    ov.scatter(597, yy, s=20, color=c, lw=0)
    ov.text(605, yy, g, fontsize=7.5, va='center', ha='left')


def comp_legend(x, title, names):
    ov.text(x, 298, title, fontsize=4.2, va='center', ha='left')
    for j, (nm, c) in enumerate(zip(names[::-1], comp_cols[::-1])):
        yy = 308 + 10.3 * j
        ov.add_patch(Rectangle((x, yy - 4.7), 9.5, 9.4, color=c, lw=0))
        ov.text(x + 13, yy, nm, fontsize=4.2, va='center', ha='left', color='#333333')


comp_legend(213, "Phylum", phylum_names)
comp_legend(449, "Genus", genus_names)
comp_legend(643, "Species", species_names)

# H legend
ov.text(483, 543, "p.value", fontsize=4.6, va='center', ha='left')
for j, p in enumerate([0.01, 0.02]):
    yy = 553 + 9.5 * j
    ov.scatter(487, yy, s=psize(p), color='black', lw=0)
    ov.text(494, yy, f"{p:.2f}", fontsize=4.4, va='center', ha='left')
ov.text(483, 583, "Tendency", fontsize=4.6, va='center', ha='left')
for j, t in enumerate(["Increase", "Decrease", "Unknow"]):
    yy = 593 + 9.3 * j
    ov.scatter(487, yy, s=2.5, color=tendency_colors[t], lw=0)
    ov.text(494, yy, t, fontsize=4.4, va='center', ha='left')

fig.savefig("out.png", dpi=100)
